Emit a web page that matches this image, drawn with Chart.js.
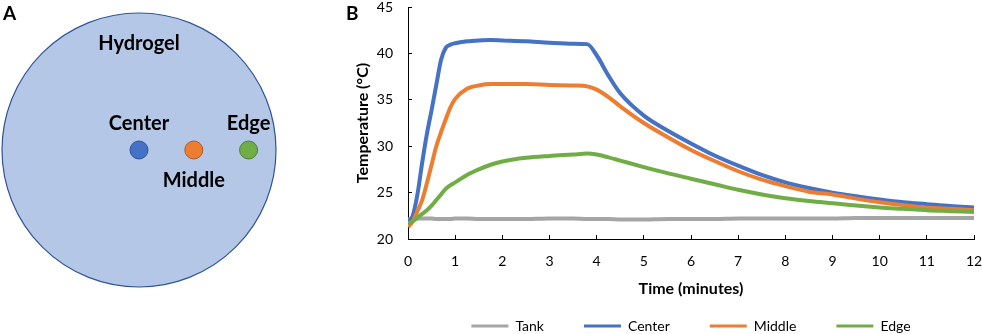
<!DOCTYPE html>
<html>
<head>
<meta charset="utf-8">
<script src="https://cdn.jsdelivr.net/npm/chart.js@4.4.1/dist/chart.umd.min.js"></script>
<style>
  html, body { margin: 0; padding: 0; background: #fff; overflow: hidden; }
  #gel { position: absolute; left: -10px; top: -10px; }
  #temps { position: absolute; left: 340px; top: 0; }
</style>
</head>
<body>
<canvas id="gel" width="298" height="320"></canvas>
<canvas id="temps" width="642" height="334"></canvas>
<script>
// panel A: probe positions as a fraction of the hydrogel radius
const probeNames = ["Center", "Middle", "Edge"];
const probeRadius = [0, 0.4, 0.8];
const probeColors = ["#4472c4", "#ed7d31", "#70ad47"];
const probeBorders = ["#2f5597", "#ae5a21", "#507e32"];
const gelRadius = 1;

// panel B: time (minutes)
const minutes = [0, 0.1, 0.2, 0.3, 0.4, 0.5, 0.6, 0.7, 0.8, 0.9, 1, 1.25, 1.5, 1.75, 2, 2.5, 3, 3.5, 3.8,
  4, 4.25, 4.5, 5, 5.5, 6, 6.5, 7, 7.5, 8, 8.5, 9, 9.5, 10, 10.5, 11, 11.5, 12];

// temperatures (°C)
const tank = [22.1, 22.15, 22.2, 22.2, 22.2, 22.2, 22.15, 22.15, 22.15, 22.15, 22.2, 22.2, 22.15, 22.15, 22.15, 22.15, 22.2, 22.2, 22.15,
  22.15, 22.15, 22.1, 22.1, 22.15, 22.15, 22.15, 22.2, 22.2, 22.2, 22.2, 22.2, 22.25, 22.25, 22.25, 22.25, 22.25, 22.25];
const center = [21.9, 22.5, 24.8, 28.2, 31.3, 33.9, 36.6, 39.3, 40.6, 40.95, 41.1, 41.3, 41.4, 41.45, 41.4, 41.3, 41.15, 41.05, 41.0,
  39.8, 37.6, 35.7, 33.3, 31.7, 30.3, 29.0, 27.9, 26.9, 26.1, 25.5, 25.0, 24.6, 24.25, 23.95, 23.75, 23.55, 23.4];
const middle = [21.3, 21.9, 23.0, 24.2, 26.0, 28.0, 30.0, 31.5, 32.9, 34.2, 35.1, 36.2, 36.55, 36.7, 36.7, 36.7, 36.6, 36.55, 36.45,
  36.1, 35.3, 34.3, 32.5, 31.0, 29.6, 28.4, 27.3, 26.4, 25.7, 25.1, 24.8, 24.35, 23.95, 23.65, 23.4, 23.25, 23.1];
const edge = [21.7, 21.9, 22.3, 22.7, 23.1, 23.6, 24.2, 24.8, 25.4, 25.8, 26.1, 26.9, 27.5, 28.0, 28.35, 28.75, 28.95, 29.1, 29.2,
  29.1, 28.8, 28.45, 27.75, 27.1, 26.5, 25.9, 25.3, 24.8, 24.4, 24.1, 23.85, 23.6, 23.4, 23.25, 23.1, 23.0, 22.9];

const seriesNames = ["Tank", "Center", "Middle", "Edge"];
const seriesValues = [tank, center, middle, edge];
const seriesColors = ["#a5a5a5", "#4472c4", "#ed7d31", "#70ad47"];

Chart.defaults.font.family = "Lato, 'Open Sans', sans-serif";
Chart.defaults.color = "#000";

// ---------- panel A ----------
// area inside the 10px padding is 278 x 300, gel radius is 137px
const gelPx = 137;
const xHalf = 278 / 2 / gelPx;
const yHalf = 300 / 2 / gelPx;

const gelDrawing = {
  id: "gelDrawing",
  beforeDatasetsDraw(chart) {
    const { ctx, scales: { x, y } } = chart;
    const r = x.getPixelForValue(gelRadius) - x.getPixelForValue(0);
    ctx.save();
    ctx.beginPath();
    ctx.arc(x.getPixelForValue(0), y.getPixelForValue(0), r, 0, Math.PI * 2);
    ctx.fillStyle = "#b4c7e7";
    ctx.fill();
    ctx.lineWidth = 1.2;
    ctx.strokeStyle = "#2f5597";
    ctx.stroke();
    ctx.restore();
  },
  afterDatasetsDraw(chart) {
    const { ctx, chartArea, scales: { x, y } } = chart;
    ctx.save();
    ctx.fillStyle = "#000";
    ctx.font = "bold 20px Lato";
    ctx.textAlign = "center";
    ctx.textBaseline = "alphabetic";
    ctx.fillText("Hydrogel", x.getPixelForValue(0), y.getPixelForValue(0.73));
    probeNames.forEach((name, i) => {
      // middle label goes under its dot, the others above
      const dy = i === 1 ? 37 : -20;
      ctx.fillText(name, x.getPixelForValue(probeRadius[i]), y.getPixelForValue(0) + dy);
    });
    ctx.textAlign = "left";
    ctx.font = "bold 19px Lato";
    ctx.fillText("A", chartArea.left + 3, chartArea.top + 20);
    ctx.restore();
  },
};

new Chart(document.getElementById("gel"), {
  type: "scatter",
  data: {
    datasets: [
      {
        label: "Probes",
        data: probeRadius.map((r) => ({ x: r, y: 0 })),
        pointRadius: 9,
        pointBackgroundColor: probeColors,
        pointBorderColor: probeBorders,
        pointBorderWidth: 1,
      },
    ],
  },
  options: {
    responsive: false,
    animation: false,
    events: [],
    layout: { padding: 10 },
    plugins: { legend: { display: false }, tooltip: { enabled: false } },
    scales: {
      x: { type: "linear", display: false, min: -xHalf, max: xHalf },
      y: { type: "linear", display: false, min: -yHalf, max: yHalf },
    },
  },
  plugins: [gelDrawing],
});

// ---------- panel B ----------
const panelLetter = {
  id: "panelLetter",
  afterDraw(chart) {
    const ctx = chart.ctx;
    ctx.save();
    ctx.fillStyle = "#000";
    ctx.font = "bold 19px Lato";
    ctx.textBaseline = "alphabetic";
    ctx.fillText("B", 6, 20);
    ctx.restore();
  },
};

new Chart(document.getElementById("temps"), {
  type: "line",
  data: {
    datasets: seriesNames.map((name, i) => ({
      label: name,
      data: minutes.map((t, j) => ({ x: t, y: seriesValues[i][j] })),
      borderColor: seriesColors[i],
      backgroundColor: seriesColors[i],
      borderWidth: 4,
      pointRadius: 0,
      cubicInterpolationMode: "monotone",
      // later series on top, like the original
      order: seriesNames.length - i,
    })),
  },
  options: {
    responsive: false,
    animation: false,
    events: [],
    layout: { padding: { top: 7, right: 8, bottom: 0, left: 0 } },
    plugins: {
      tooltip: { enabled: false },
      legend: {
        position: "bottom",
        fullSize: false,
        maxHeight: 55,
        labels: {
          boxWidth: 37,
          boxHeight: 3,
          padding: 40,
          font: { size: 14 },
          generateLabels: (chart) =>
            Chart.defaults.plugins.legend.labels
              .generateLabels(chart)
              .map((item) => ({ ...item, lineWidth: 0 }))
              .sort((a, b) => a.datasetIndex - b.datasetIndex),
        },
      },
    },
    scales: {
      x: {
        type: "linear",
        min: 0,
        max: 12,
        ticks: { stepSize: 1, padding: 18, font: { size: 14 }, maxRotation: 0 },
        grid: { drawOnChartArea: false, tickLength: -4, color: "#000" },
        border: { color: "#000", width: 1 },
        title: {
          display: true,
          text: "Time (minutes)",
          font: { size: 16, weight: "bold" },
          padding: { top: 0, bottom: -19 },
        },
        afterFit: (scale) => {
          scale.height = 40;
          scale.paddingRight = 0;
          scale.paddingLeft = 0;
        },
      },
      y: {
        min: 20,
        max: 45,
        ticks: { stepSize: 5, padding: 19, font: { size: 14 } },
        grid: { drawOnChartArea: false, tickLength: -4, color: "#000" },
        border: { color: "#000", width: 1 },
        title: {
          display: true,
          text: "Temperature (°C)",
          font: { size: 16, weight: "bold" },
          padding: { top: 13, bottom: 0 },
        },
        afterFit: (scale) => {
          scale.width = 68;
          scale.paddingTop = 0;
          scale.paddingBottom = 0;
        },
      },
    },
  },
  plugins: [panelLetter],
});
</script>
</body>
</html>
